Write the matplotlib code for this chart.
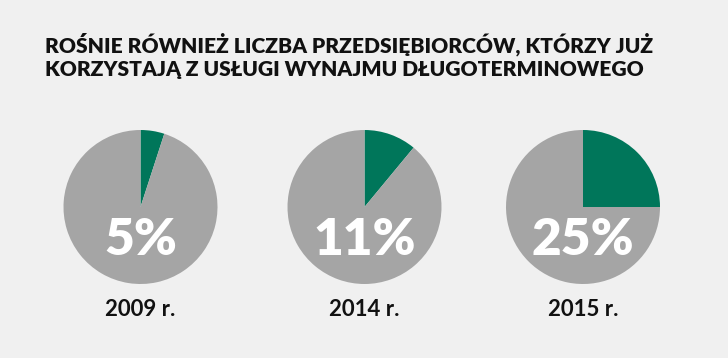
import matplotlib
matplotlib.use("Agg")
import matplotlib.pyplot as plt

title = "ROŚNIE RÓWNIEŻ LICZBA PRZEDSIĘBIORCÓW, KTÓRZY JUŻ\nKORZYSTAJĄ Z USŁUGI WYNAJMU DŁUGOTERMINOWEGO"
years = ["2009 r.", "2014 r.", "2015 r."]
shares = [5, 11, 25]

W, H = 728, 358
bg = "#f0f0f0"
green = "#00765a"
gray = "#a5a5a5"

fig = plt.figure(figsize=(W / 100, H / 100), dpi=100, facecolor=bg)
ax = fig.add_axes([0, 0, 1, 1])

centers_x = [140.5, 364.5, 583]
cy = H - 207
r = 77
for cx, s, yr in zip(centers_x, shares, years):
    ax.pie([s, 100 - s], colors=[green, gray], startangle=90, counterclock=False,
           center=(cx, cy), radius=r, frame=True,
           wedgeprops=dict(linewidth=0))
    ax.text(cx, H - 240, f"{s}%", ha="center", va="center", color="white",
            fontsize=37, fontweight="heavy", family="Lato")
    ax.text(cx, H - 310, yr, ha="center", va="center", color="#111111",
            fontsize=16, fontweight="bold", family="Lato")

ax.set_xlim(0, W)
ax.set_ylim(0, H)
ax.set_aspect("equal")
ax.axis("off")

fig.text(45 / W, 1 - 32 / H, title, ha="left", va="top", fontsize=15.1,
         fontweight="heavy", family="Lato", color="#111111", linespacing=1.3)

fig.savefig("out.png", dpi=100, facecolor=bg)
